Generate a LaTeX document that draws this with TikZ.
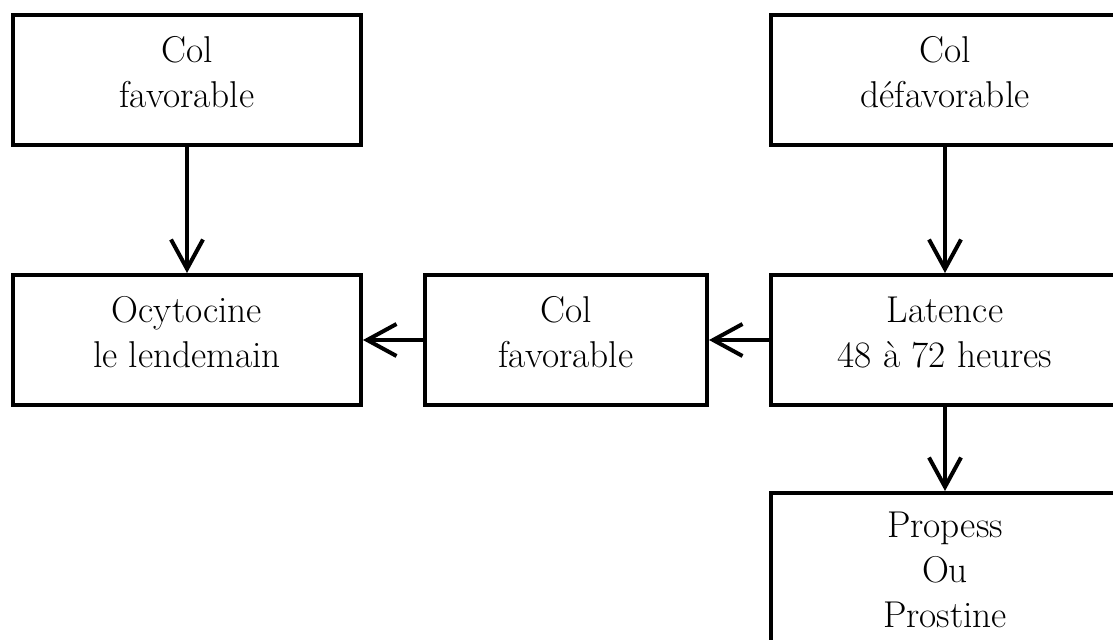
\documentclass[tikz,border=0pt]{standalone}
\usetikzlibrary{arrows.meta}
\begin{document}
\begin{tikzpicture}[x=0.75pt,y=-0.75pt,
  box/.style={draw=black, line width=3pt, fill=white, align=center, inner sep=0pt,
    font=\fontsize{28}{33.5}\selectfont},
  up/.style={text depth=12pt},
  conn/.style={line width=3pt, -{Straight Barb[length=22pt,width=24pt]}}]
\useasboundingbox (0,0) rectangle (1113,639);
\node[box, up, minimum width=261pt, minimum height=97.5pt] (cf1) at (187,80) {Col\\favorable};
\node[box, up, minimum width=261pt, minimum height=97.5pt] (cd) at (945,80) {Col\\d\'efavorable};
\node[box, up, minimum width=261pt, minimum height=97.5pt] (oc) at (187,340) {Ocytocine\\le lendemain};
\node[box, up, minimum width=211.5pt, minimum height=97.5pt] (cf2) at (566,340) {Col\\favorable};
\node[box, up, minimum width=261pt, minimum height=97.5pt] (lat) at (945,340) {Latence\\48 \`a 72 heures};
\node[box, minimum width=261pt, minimum height=115.5pt] (pro) at (945,570) {Propess\\Ou\\Prostine};
\draw[conn] (cf1.south) -- (oc.north);
\draw[conn] (cd.south) -- (lat.north);
\draw[conn] (lat.west) -- (cf2.east);
\draw[conn] (cf2.west) -- (oc.east);
\draw[conn] (lat.south) -- (pro.north);
\end{tikzpicture}
\end{document}
